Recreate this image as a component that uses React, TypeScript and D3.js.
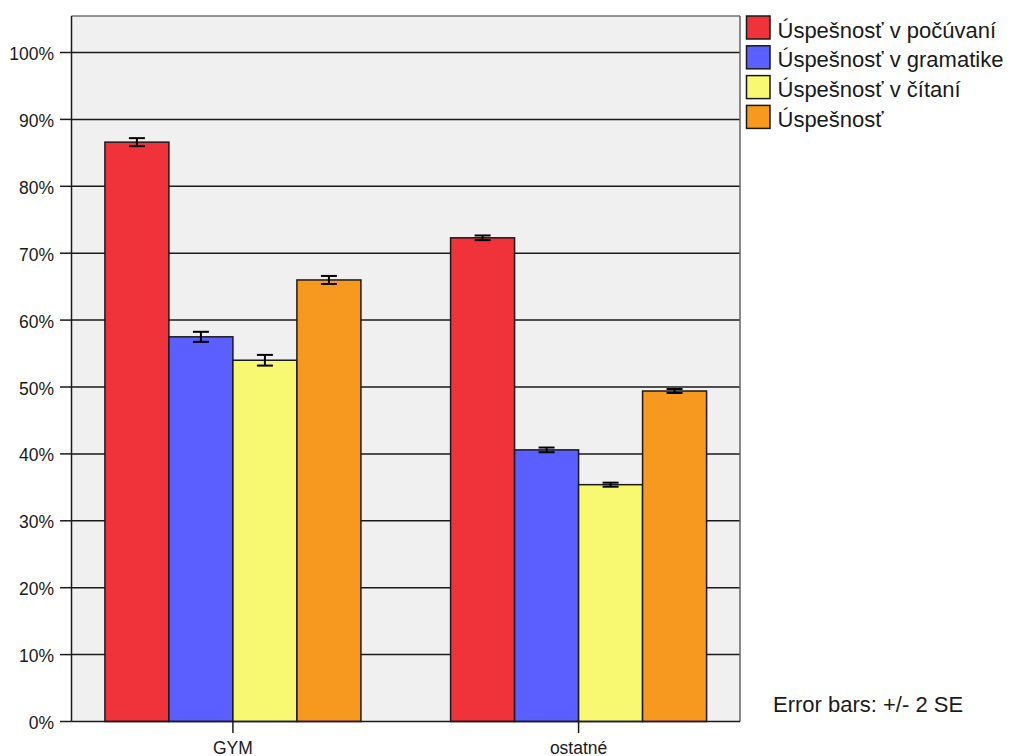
import React from "react";
import * as d3 from "d3";

const categories = ["GYM", "ostatné"];
const seriesNames = ["Úspešnosť v počúvaní", "Úspešnosť v gramatike", "Úspešnosť v čítaní", "Úspešnosť"];
const seriesColors = ["#f0323a", "#5b5fff", "#f9f871", "#f7991f"];
const gymValues = [86.6, 57.5, 54.0, 66.0];
const gymErrors = [0.6, 0.75, 0.8, 0.6];
const ostatneValues = [72.3, 40.6, 35.4, 49.4];
const ostatneErrors = [0.35, 0.35, 0.3, 0.3];
const yTicks = [0, 10, 20, 30, 40, 50, 60, 70, 80, 90, 100];
const noteText = "Error bars: +/- 2 SE";

const W = 1010, H = 756;
const left = 71.5, right = 740, top = 16, bottom = 721.5;
const font = "Liberation Sans, Arial, sans-serif";

export default function App() {
  const y = d3.scaleLinear().domain([0, 100]).range([bottom, bottom - 669]);
  const x = d3.scalePoint<string>().domain(categories).range([left, right]).padding(0.467);
  const barW = 64;
  const sub = d3.scaleBand<number>().domain([0, 1, 2, 3]).range([-2 * barW, 2 * barW]);
  const groups = [
    { cat: categories[0], vals: gymValues, errs: gymErrors },
    { cat: categories[1], vals: ostatneValues, errs: ostatneErrors },
  ];
  return (
    <svg width={W} height={H} style={{ position: "absolute", left: 0, top: 0, background: "#fff" }}>
      <rect x={left} y={top} width={right - left} height={bottom - top} fill="#f0f0f0" />
      {yTicks.map((t) => (
        <g key={t}>
          {t > 0 && <line x1={left} x2={right} y1={y(t)} y2={y(t)} stroke="#1a1a1a" strokeWidth={1.5} />}
          <line x1={60} x2={left} y1={y(t)} y2={y(t)} stroke="#1a1a1a" strokeWidth={1.5} />
          <text x={54} y={y(t) + 7.5} textAnchor="end" fontFamily={font} fontSize={17.5} fill="#1a1a1a">{t}%</text>
        </g>
      ))}
      <line x1={left} x2={left} y1={top} y2={bottom} stroke="#1a1a1a" strokeWidth={1.5} />
      <line x1={left} x2={right} y1={top} y2={top} stroke="#333" strokeWidth={1.2} />
      <line x1={right} x2={right} y1={top} y2={bottom} stroke="#666" strokeWidth={1.5} />
      {groups.map((g) => (
        <g key={g.cat}>
          {g.vals.map((v, i) => {
            const bx = (x(g.cat) as number) + (sub(i) as number);
            return (
              <rect key={i} x={bx} y={y(v)} width={barW} height={bottom - y(v)} fill={seriesColors[i]} stroke="#1a1a1a" strokeWidth={1.5} />
            );
          })}
          {g.vals.map((v, i) => {
            const cx = (x(g.cat) as number) + (sub(i) as number) + barW / 2;
            const y1 = y(v + g.errs[i]);
            const y2 = y(v - g.errs[i]);
            return (
              <g key={"e" + i} stroke="#000" strokeWidth={2}>
                <line x1={cx} x2={cx} y1={y1} y2={y2} />
                <line x1={cx - 8} x2={cx + 8} y1={y1} y2={y1} />
                <line x1={cx - 8} x2={cx + 8} y1={y2} y2={y2} />
              </g>
            );
          })}
          <line x1={x(g.cat)} x2={x(g.cat)} y1={bottom} y2={733} stroke="#1a1a1a" strokeWidth={1.5} />
          <text x={x(g.cat)} y={754} textAnchor="middle" fontFamily={font} fontSize={17.5} fill="#1a1a1a">{g.cat}</text>
        </g>
      ))}
      <line x1={left} x2={right} y1={bottom} y2={bottom} stroke="#1a1a1a" strokeWidth={1.5} />
      {seriesNames.map((n, i) => (
        <g key={n}>
          <rect x={746.5} y={16 + i * 29.8} width={23.5} height={23} fill={seriesColors[i]} stroke="#1a1a1a" strokeWidth={1.5} />
          <text x={777.5} y={37.5 + i * 29.8} fontFamily={font} fontSize={22} fill="#1a1a1a">{n}</text>
        </g>
      ))}
      <text x={773} y={711.5} fontFamily={font} fontSize={22} fill="#1a1a1a">{noteText}</text>
    </svg>
  );
}
